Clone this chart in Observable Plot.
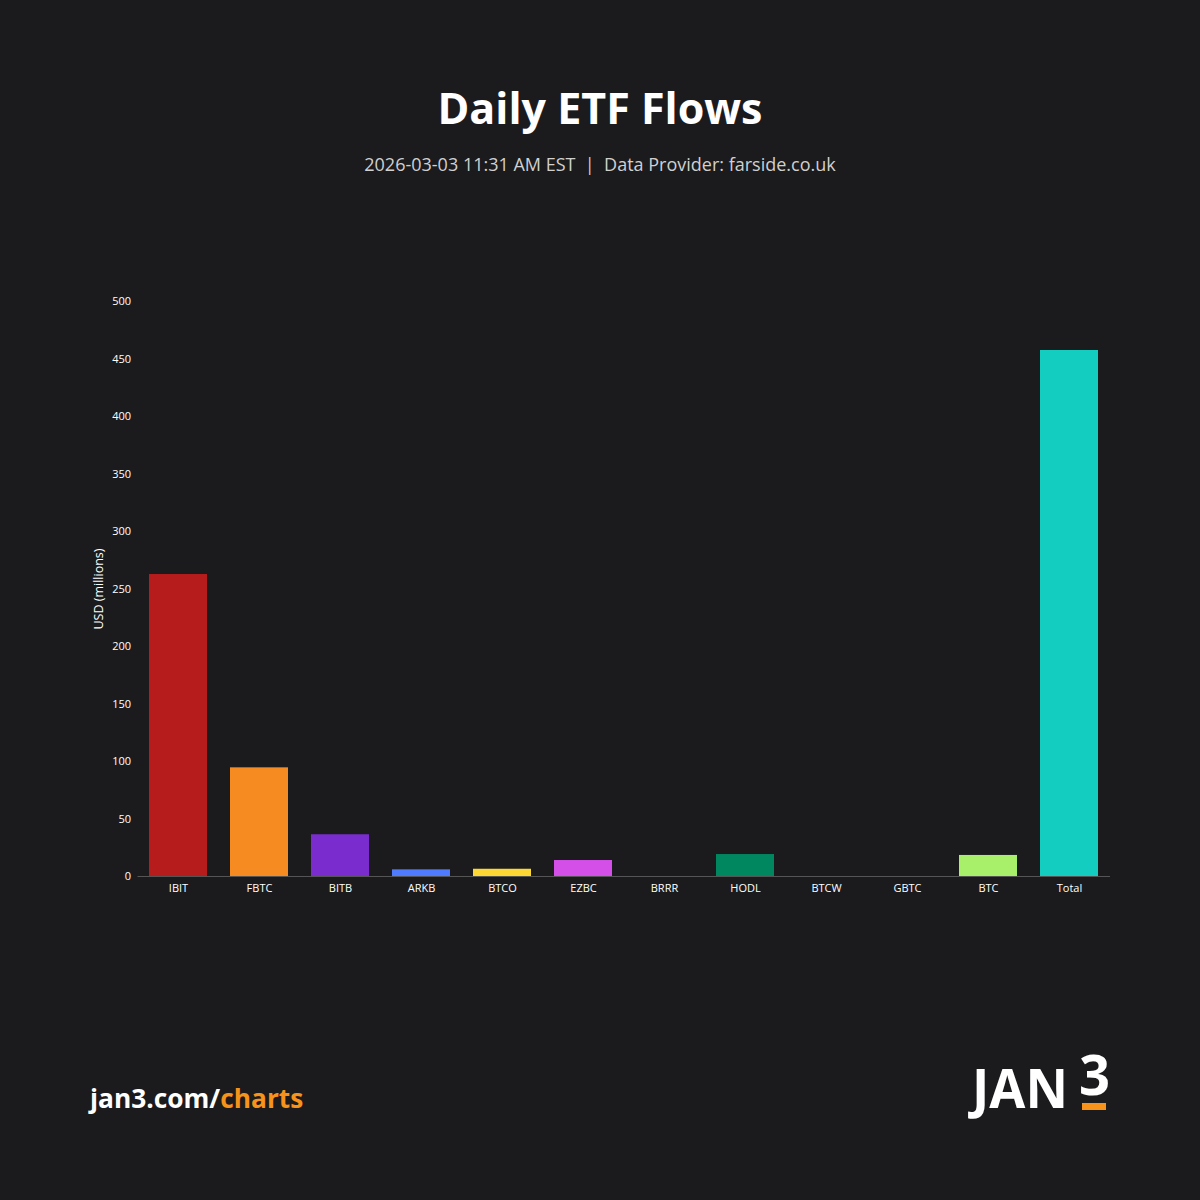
<!DOCTYPE html>
<html>
<head>
<meta charset="utf-8">
<script src="https://cdn.jsdelivr.net/npm/d3@7"></script>
<script src="https://cdn.jsdelivr.net/npm/@observablehq/plot@0.6"></script>
<style>
  html, body { margin: 0; padding: 0; background: #1b1b1d; }
  #page { position: relative; width: 1200px; height: 1200px; background: #1b1b1d; font-family: "Open Sans", sans-serif; color: #fff; overflow: hidden; }
  #title { position: absolute; top: 78px; left: 0; width: 1200px; text-align: center; font-size: 43px; font-weight: 700; line-height: 60px; }
  #subtitle { position: absolute; top: 150px; left: 0; width: 1200px; text-align: center; font-size: 18px; color: #d0d0d0; line-height: 28px; white-space: pre; }
  #chart { position: absolute; top: 280px; left: 0; }
  #footer { position: absolute; left: 90px; top: 1078px; font-size: 26.3px; font-weight: 700; line-height: 40px; }
  #footer .o { color: #f7931a; }
  #logo { position: absolute; left: 960px; top: 1040px; width: 160px; height: 80px; overflow: visible; }
</style>
</head>
<body>
<div id="page">
  <div id="title">Daily ETF Flows</div>
  <div id="subtitle">2026-03-03 11:31 AM EST  |  Data Provider: farside.co.uk</div>
  <div id="chart"></div>
  <div id="footer">jan3.com/<span class="o">charts</span></div>
  <svg id="logo" viewBox="0 0 160 80">
    <text x="12" y="68" font-family="'Open Sans', sans-serif" font-weight="700" font-size="54" fill="#fff" textLength="96" lengthAdjust="spacingAndGlyphs">JAN</text>
    <text x="119" y="55" font-family="'Open Sans', sans-serif" font-weight="700" font-size="56" fill="#fff" textLength="31" lengthAdjust="spacingAndGlyphs">3</text>
    <rect x="122" y="63" width="24" height="7" fill="#f7931a"></rect>
  </svg>
</div>
<script>
const tickers = ["IBIT", "FBTC", "BITB", "ARKB", "BTCO", "EZBC", "BRRR", "HODL", "BTCW", "GBTC", "BTC", "Total"];
const flows = [262.6, 94.5, 36.3, 5.8, 6.3, 13.9, 0, 19.1, 0, 0, 18.3, 457.4];
const colors = ["#b71c1c", "#f68b22", "#7b2ccf", "#4f7bff", "#fdd835", "#d34fe8", "#9e9e9e", "#00875f", "#8d6e63", "#607d8b", "#a8ef6a", "#13cdc1"];
const yTicks = [0, 50, 100, 150, 200, 250, 300, 350, 400, 450, 500];

const data = tickers.map((t, i) => ({ticker: t, value: flows[i]}));

const chart = Plot.plot({
  width: 1200,
  height: 636,
  marginTop: 21,
  marginBottom: 40,
  marginLeft: 137.5,
  marginRight: 90,
  style: { background: "transparent", color: "#ffffff", fontFamily: "'Open Sans', sans-serif", fontSize: "11px" },
  x: { domain: tickers, paddingInner: 0.28, paddingOuter: 0.14, label: null },
  y: { domain: [0, 500], ticks: yTicks, label: "USD (millions)" },
  color: { domain: tickers, range: colors },
  marks: [
    Plot.axisX({ tickSize: 0, tickPadding: 8, fontSize: 11, label: null }),
    Plot.axisY({ ticks: yTicks, tickSize: 0, tickPadding: 7, fontSize: 11, label: null }),
    Plot.axisY({ ticks: [], tickSize: 0, fontSize: 12.5, label: "USD (millions)", labelAnchor: "center", labelArrow: "none", labelOffset: 44 }),
    Plot.barY(data, { x: "ticker", y: "value", fill: "ticker" }),
    Plot.ruleY([0], { stroke: "#555555", strokeWidth: 1 })
  ]
});
document.getElementById("chart").appendChild(chart);
</script>
</body>
</html>
